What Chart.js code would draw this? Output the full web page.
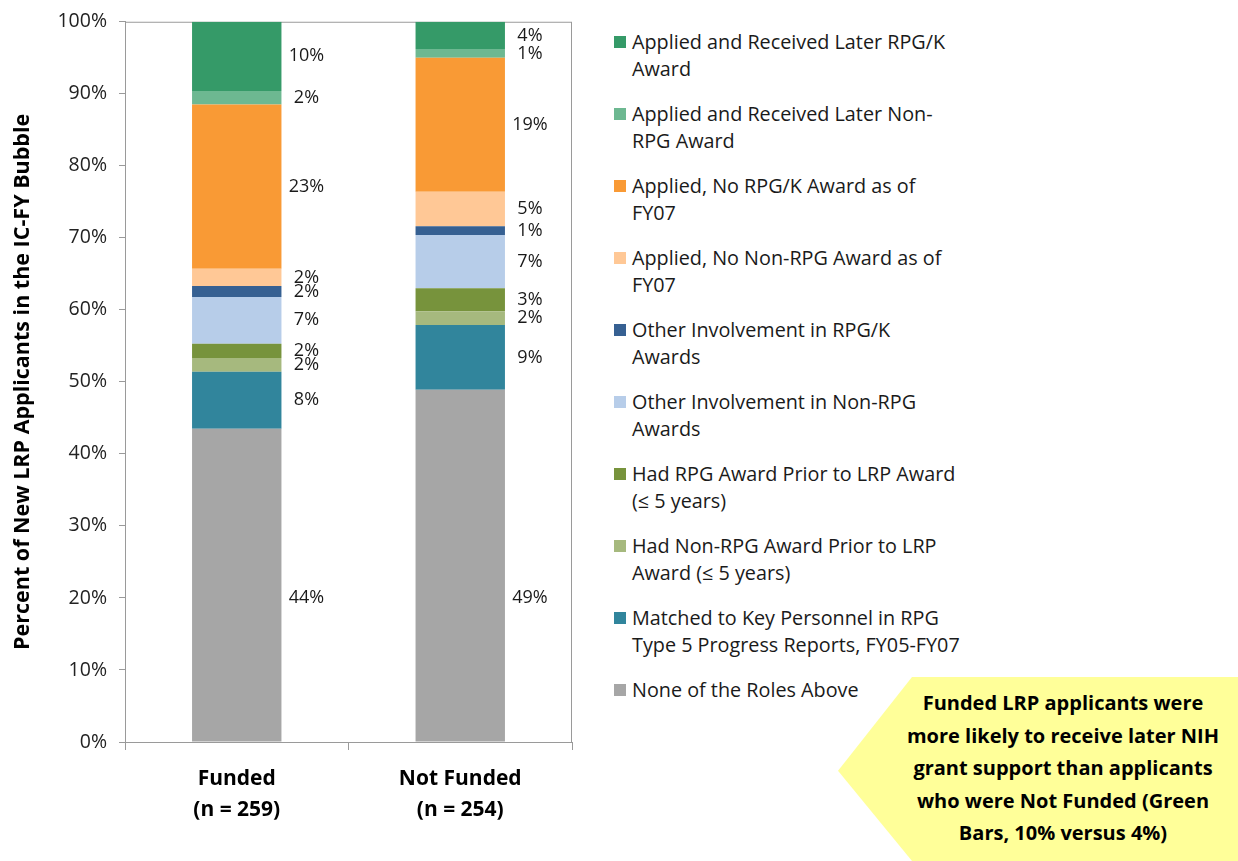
<!DOCTYPE html>
<html>
<head>
<meta charset="utf-8">
<script src="https://cdn.jsdelivr.net/npm/chart.js@4"></script>
<style>
  body { margin: 0; background: #fff; font-family: "Open Sans", sans-serif; }
  #wrap { position: relative; width: 1238px; height: 861px; overflow: hidden; }
  #chartBox { position: absolute; left: 0; top: 0; width: 600px; height: 861px; }
  #legend { position: absolute; left: 614px; top: 28px; }
  .item { position: relative; padding-left: 18px; font-size: 19.8px; line-height: 27px; color: #1a1a1a; height: 72px; white-space: pre; }
  .item span.box { position: absolute; left: 0; top: 8px; width: 12px; height: 12px; }
  #callout { position: absolute; left: 838px; top: 677px; width: 400px; height: 184px; background: #ffff99;
    clip-path: polygon(0 51%, 74px 0, 100% 0, 100% 100%, 74px 100%); }
  #callout div { position: absolute; left: 50px; right: 0; top: 10px; text-align: center;
    font-weight: bold; font-size: 20px; line-height: 32.5px; color: #000; }
</style>
</head>
<body>
<div id="wrap">
  <div id="chartBox"><canvas id="lrpChart"></canvas></div>
  <div id="legend"></div>
  <div id="callout"><div>Funded LRP applicants were<br>more likely to receive later NIH<br>grant support than applicants<br>who were Not Funded (Green<br>Bars, 10% versus 4%)</div></div>
</div>
<script>
// groups on the x axis
const groups = [["Funded", "(n = 259)"], ["Not Funded", "(n = 254)"]];

// series, listed top of stack first (same order as the legend)
const seriesNames = [
  "Applied and Received Later RPG/K\nAward",
  "Applied and Received Later Non-\nRPG Award",
  "Applied, No RPG/K Award as of\nFY07",
  "Applied, No Non-RPG Award as of\nFY07",
  "Other Involvement in RPG/K\nAwards",
  "Other Involvement in Non-RPG\nAwards",
  "Had RPG Award Prior to LRP Award\n(\u2264 5 years)",
  "Had Non-RPG Award Prior to LRP\nAward (\u2264 5 years)",
  "Matched to Key Personnel in RPG\nType 5 Progress Reports, FY05-FY07",
  "None of the Roles Above"
];
const fundedPct    = [9.6, 1.9, 22.8, 2.4, 1.5, 6.5, 2.0, 1.9, 7.9, 43.5];
const notFundedPct = [3.8, 1.2, 18.6, 4.8, 1.2, 7.4, 3.2, 1.9, 9.0, 48.9];
const seriesColors = ["#359a68", "#6db891", "#f99a35", "#ffc896", "#366092",
                      "#b7cde9", "#77933c", "#a6b97e", "#31859c", "#a6a6a6"];
const yTicks = [0, 10, 20, 30, 40, 50, 60, 70, 80, 90, 100];

// chart stacks first dataset at the bottom, so reverse
const datasets = seriesNames.map((name, i) => ({
  label: name.replace("\n", " "),
  data: [fundedPct[i], notFundedPct[i]],
  backgroundColor: seriesColors[i],
  borderWidth: 0
})).reverse();

// percent labels to the right of each segment
const segLabels = {
  id: "segLabels",
  afterDatasetsDraw(chart) {
    const ctx = chart.ctx;
    const yScale = chart.scales.y;
    ctx.save();
    ctx.font = "18px 'Open Sans', sans-serif";
    ctx.fillStyle = "#1a1a1a";
    ctx.textAlign = "center";
    ctx.textBaseline = "middle";
    chart.data.datasets.forEach((ds, di) => {
      chart.getDatasetMeta(di).data.forEach((bar, j) => {
        const p = bar.getProps(["x", "y", "base", "width"], true);
        let y = (p.y + p.base) / 2;
        // the big bottom block has its label set lower, near the 20% line
        if (di === 0) y = yScale.getPixelForValue(20);
        ctx.fillText(Math.round(ds.data[j]) + "%", p.x + p.width / 2 + 25, y);
      });
    });
    ctx.restore();
  }
};

// gray frame round the plot area
const plotFrame = {
  id: "plotFrame",
  beforeDatasetsDraw(chart) {
    const a = chart.chartArea, ctx = chart.ctx;
    ctx.save();
    ctx.strokeStyle = "#9a9a9a";
    ctx.lineWidth = 1;
    ctx.strokeRect(a.left + 0.5, a.top + 0.5, a.right - a.left - 1, a.bottom - a.top);
    ctx.restore();
  }
};

new Chart(document.getElementById("lrpChart"), {
  type: "bar",
  data: { labels: groups, datasets: datasets },
  options: {
    responsive: true,
    maintainAspectRatio: false,
    animation: false,
    layout: { padding: { top: 20, right: 28, left: 10, bottom: 0 } },
    plugins: { legend: { display: false }, tooltip: { enabled: false } },
    datasets: { bar: { categoryPercentage: 1, barPercentage: 0.4 } },
    scales: {
      x: {
        stacked: true,
        grid: { display: true, drawOnChartArea: false, offset: true, tickLength: 8, color: "#9a9a9a" },
        border: { color: "#9a9a9a" },
        ticks: { color: "#000", font: { family: "Open Sans", size: 21, weight: "bold", lineHeight: 1.45 }, padding: 14 },
        afterFit(s) { s.height = 119; }
      },
      y: {
        stacked: true,
        min: 0, max: 100,
        afterBuildTicks(s) { s.ticks = yTicks.map(v => ({ value: v })); },
        grid: { display: true, drawOnChartArea: false, tickLength: 6, color: "#9a9a9a" },
        border: { color: "#9a9a9a" },
        ticks: { color: "#222", font: { family: "Open Sans", size: 19.5, lineHeight: 1 }, padding: 12, callback: v => v + "%" },
        title: { display: true, text: "Percent of New LRP Applicants in the IC-FY Bubble",
                 color: "#000", font: { family: "Open Sans", size: 21.5, weight: "bold" }, padding: { top: 0, bottom: 6 } },
        afterFit(s) { s.width = 115; }
      }
    }
  },
  plugins: [segLabels, plotFrame]
});

// legend built from the same arrays
const legendEl = document.getElementById("legend");
seriesNames.forEach((name, i) => {
  const row = document.createElement("div");
  row.className = "item";
  row.innerHTML = '<span class="box" style="background:' + seriesColors[i] + '"></span>';
  row.appendChild(document.createTextNode(name));
  legendEl.appendChild(row);
});
</script>
</body>
</html>
